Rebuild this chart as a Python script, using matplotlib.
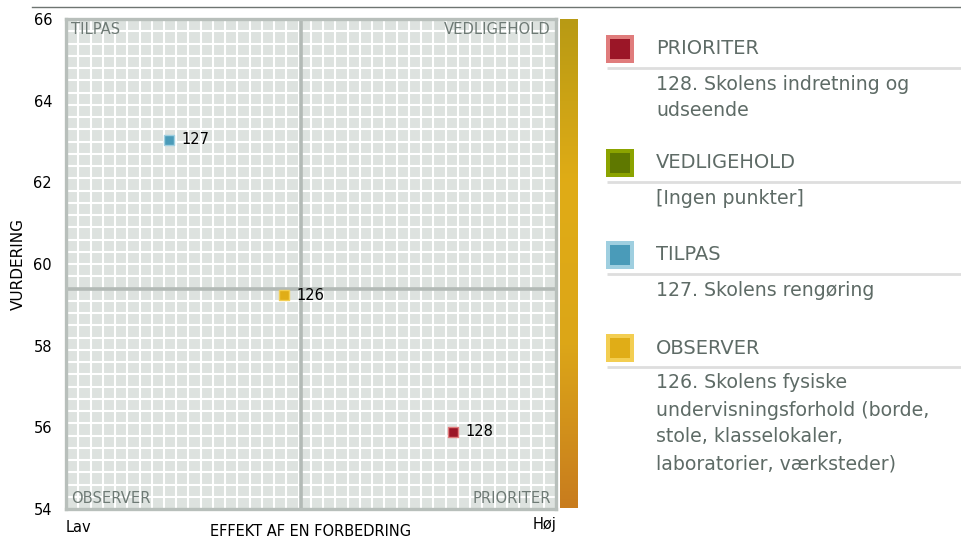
import matplotlib
matplotlib.use("Agg")
import matplotlib.pyplot as plt
import numpy as np
from matplotlib.colors import LinearSegmentedColormap
from matplotlib.patches import Rectangle

# ---- data ----
quadrants = ["PRIORITER", "VEDLIGEHOLD", "TILPAS", "OBSERVER"]
quadrant_desc = [
    "128. Skolens indretning og\nudseende",
    "[Ingen punkter]",
    "127. Skolens rengøring",
    "126. Skolens fysiske\nundervisningsforhold (borde,\nstole, klasselokaler,\nlaboratorier, værksteder)",
]
quad_outer = ["#E07C7C", "#8BA300", "#9FCFE0", "#F3CE52"]
quad_inner = ["#9B1627", "#5F7800", "#4A9BB9", "#E0AD17"]

point_ids = ["127", "126", "128"]
point_x = [0.21, 0.445, 0.79]
point_y = [63.04, 59.24, 55.89]
point_quad = [2, 3, 0]

x_mid = 0.48
y_mid = 59.39
y_ticks = [54, 56, 58, 60, 62, 64, 66]
x_label_low, x_label_high = "Lav", "Høj"

plt.rcParams['font.family'] = ['DejaVu Sans']

W, H = 962, 539
fig = plt.figure(figsize=(W / 100, H / 100), dpi=100)

def px_axes(x0, y0, x1, y1):
    return fig.add_axes([x0 / W, 1 - y1 / H, (x1 - x0) / W, (y1 - y0) / H])

# top rule
fig.add_artist(plt.Line2D([32 / W, 1], [1 - 7 / H, 1 - 7 / H], color="#6E7571", lw=1))

# ---- main axes ----
ax = px_axes(66, 19, 556, 509)
ax.set_xlim(0, 1)
ax.set_ylim(54, 66)
ax.set_facecolor("#DDE2DF")
n = 40
for i in range(1, n):
    ax.axvline(i / n, color="white", lw=1.5, zorder=1)
    ax.axhline(54 + 12 * i / n, color="white", lw=1.5, zorder=1)
ax.axvline(x_mid, color="#B3BAB6", lw=2.6, zorder=2)
ax.axhline(y_mid, color="#B3BAB6", lw=2.6, zorder=2)
for s in ax.spines.values():
    s.set_color("#B8BFBB")
    s.set_linewidth(2.4)
ax.set_xticks([])
ax.set_yticks(y_ticks)
ax.set_yticklabels([str(t) for t in y_ticks], fontsize=10.5, color="black")
ax.tick_params(axis="y", length=0, pad=10)

fig.text(18 / W, 1 - 264 / H, "VURDERING", rotation=90, ha="center", va="center", fontsize=11)

qc = "#6E7A75"
qfs = 10.6
ax.text(0.01, 0.993, "TILPAS", transform=ax.transAxes, ha="left", va="top", fontsize=qfs, color=qc)
ax.text(0.99, 0.993, "VEDLIGEHOLD", transform=ax.transAxes, ha="right", va="top", fontsize=qfs, color=qc)
ax.text(0.01, 0.007, "OBSERVER", transform=ax.transAxes, ha="left", va="bottom", fontsize=qfs, color=qc)
ax.text(0.99, 0.007, "PRIORITER", transform=ax.transAxes, ha="right", va="bottom", fontsize=qfs, color=qc)

for pid, px, py, q in zip(point_ids, point_x, point_y, point_quad):
    ax.scatter([px], [py], marker="s", s=62, c=quad_inner[q], edgecolors=quad_outer[q],
               linewidths=1.0, zorder=5)
    ax.annotate(pid, (px, py), xytext=(9, 0), textcoords="offset points",
                va="center", ha="left", fontsize=10.5, color="black", zorder=6)

fig.text(66 / W, 1 - 527 / H, x_label_low, ha="left", va="center", fontsize=10.5)
fig.text(556 / W, 1 - 525 / H, x_label_high, ha="right", va="center", fontsize=10.5)
fig.text(311 / W, 1 - 531 / H, "EFFEKT AF EN FORBEDRING", ha="center", va="center", fontsize=10.5)

# ---- colour bar ----
cax = px_axes(560, 19, 578, 508)
cmap = LinearSegmentedColormap.from_list("q", ["#B89A14", "#E0AC16", "#DCA618", "#C87C1E"])
cax.imshow(np.linspace(0, 1, 256)[:, None], aspect="auto", cmap=cmap, extent=[0, 1, 1, 0])
cax.set_axis_off()

# ---- legend panel ----
lax = px_axes(590, 0, 962, 539)
lax.set_xlim(590, 962)
lax.set_ylim(539, 0)
lax.set_axis_off()
tc = "#5E6B66"
head_y = [49, 163, 255, 348]
for i, (name, desc, hy) in enumerate(zip(quadrants, quadrant_desc, head_y)):
    lax.add_patch(Rectangle((606, hy - 14), 28, 28, facecolor=quad_outer[i], edgecolor="none"))
    lax.add_patch(Rectangle((610, hy - 10), 20, 20, facecolor=quad_inner[i], edgecolor="none"))
    lax.text(656, hy, name, ha="left", va="center", fontsize=14, color=tc)
    lax.plot([607, 962], [hy + 19, hy + 19], color="#DEDEDE", lw=2, solid_capstyle="butt")
    for j, line in enumerate(desc.split("\n")):
        lax.text(656, hy + 35 + 27 * j, line, ha="left", va="center", fontsize=13.6, color=tc)

fig.savefig("out.png", dpi=100)
